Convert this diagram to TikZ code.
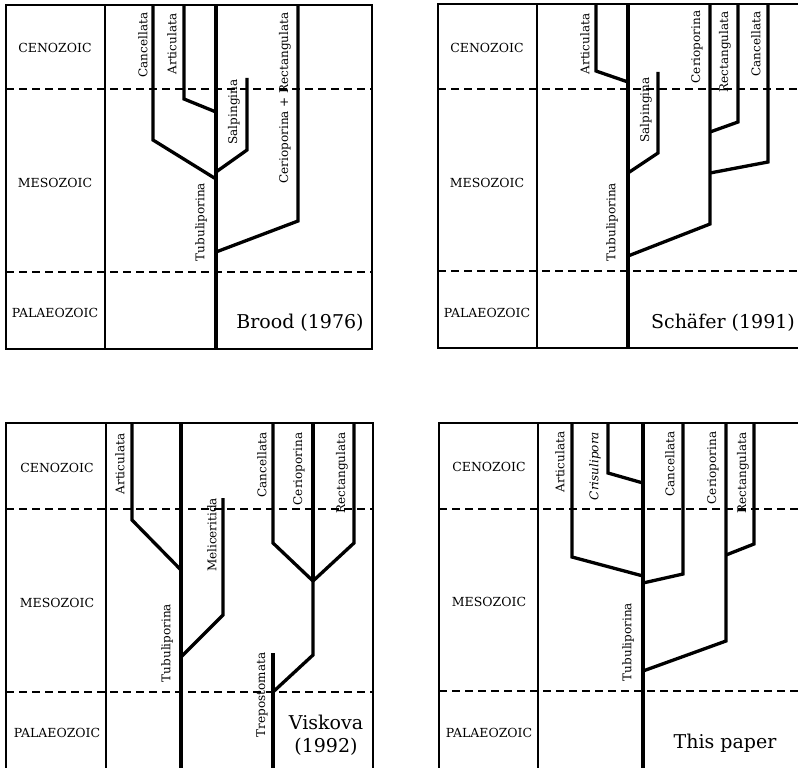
\documentclass[tikz,border=0pt]{standalone}
\usepackage{fontspec}
\setmainfont{DejaVu Serif}
\usepackage{tikz}
\usetikzlibrary{positioning,calc}

\begin{document}
\begin{tikzpicture}[x=1pt,y=-1pt,
  frameline/.style={line width=1.5pt},
  eraline/.style={line width=1.6pt,dash pattern=on 8pt off 5pt},
  cladeline/.style={line width=3.3pt,line join=miter,line cap=butt},
  cladetag/.style={rotate=90,inner sep=0pt,font=\fontsize{12}{14}\selectfont},
  eratag/.style={inner sep=0pt,font=\fontsize{12.5}{15}\selectfont},
  authtag/.style={inner sep=0pt,align=center,font=\fontsize{19}{23}\selectfont}
]
  \useasboundingbox (0,0) rectangle (798,768);

  % Panel 1: Brood (1976) (top-left)
  \draw[frameline] (6,5) rectangle (372,349);
  \draw[frameline] (105,5) -- (105,349);
  \draw[eraline] (6,89) -- (372,89);
  \draw[eraline] (6,272) -- (372,272);
  \coordinate (pa-top) at (216,5);
  \coordinate (pa-bot) at (216,349);
  \coordinate (pa-can) at (216,179);
  \coordinate (pa-art) at (216,112);
  \coordinate (pa-sal) at (216,172);
  \coordinate (pa-cer) at (216,252);
  \draw[cladeline] (pa-top) -- (pa-bot);
  \draw[cladeline] (153,5) -- (153,140) -- (pa-can);
  \draw[cladeline] (184,5) -- (184,99) -- (pa-art);
  \draw[cladeline] (pa-sal) -- (247,150) -- (247,78);
  \draw[cladeline] (pa-cer) -- (298,221) -- (298,5);
  \node[cladetag] (pa-tcan) at (143,45) {Cancellata};
  \node[cladetag] (pa-tart) at (172,44) {Articulata};
  \node[cladetag] (pa-tsal) at (234,112) {Salpingina};
  \node[cladetag] (pa-tcer) at (285,98) {Cerioporina + Rectangulata};
  \node[cladetag] (pa-ttub) at (201,222) {Tubuliporina};
  \node[eratag] (pa-ceno) at (55,48) {CENOZOIC};
  \node[eratag] (pa-meso) at (55,183) {MESOZOIC};
  \node[eratag] (pa-pala) at (55,313) {PALAEOZOIC};
  \node[authtag] (pa-auth) at (300,323) {Brood (1976)};

  % Panel 2: Schafer (1991) (top-right)
  \draw[frameline] (798,4) -- (438,4) -- (438,348) -- (798,348);
  \draw[frameline] (537,4) -- (537,348);
  \draw[eraline] (438,89) -- (798,89);
  \draw[eraline] (438,271) -- (798,271);
  \coordinate (pb-top) at (628,4);
  \coordinate (pb-bot) at (628,348);
  \coordinate (pb-art) at (628,82);
  \coordinate (pb-sal) at (628,173);
  \coordinate (pb-cer) at (628,256);
  \coordinate (pb-rec) at (710,132);
  \coordinate (pb-can) at (710,173);
  \draw[cladeline] (pb-top) -- (pb-bot);
  \draw[cladeline] (596,4) -- (596,71) -- (pb-art);
  \draw[cladeline] (pb-sal) -- (658,153) -- (658,72);
  \draw[cladeline] (pb-cer) -- (710,224) -- (710,4);
  \draw[cladeline] (pb-rec) -- (738,122) -- (738,4);
  \draw[cladeline] (pb-can) -- (768,162) -- (768,4);
  \node[cladetag] (pb-tart) at (585,44) {Articulata};
  \node[cladetag] (pb-tsal) at (646,110) {Salpingina};
  \node[cladetag] (pb-tcer) at (697,47) {Cerioporina};
  \node[cladetag] (pb-trec) at (725,52) {Rectangulata};
  \node[cladetag] (pb-tcan) at (756,44) {Cancellata};
  \node[cladetag] (pb-ttub) at (612,222) {Tubuliporina};
  \node[eratag] (pb-ceno) at (487,48) {CENOZOIC};
  \node[eratag] (pb-meso) at (487,183) {MESOZOIC};
  \node[eratag] (pb-pala) at (487,313) {PALAEOZOIC};
  \node[authtag] (pb-auth) at (723,323) {Schäfer (1991)};

  % Panel 3: Viskova (1992) (bottom-left)
  \draw[frameline] (6,768) -- (6,423) -- (373,423) -- (373,768);
  \draw[frameline] (106,423) -- (106,768);
  \draw[eraline] (6,509) -- (373,509);
  \draw[eraline] (6,692) -- (373,692);
  \coordinate (pc-top) at (181,423);
  \coordinate (pc-bot) at (181,768);
  \coordinate (pc-art) at (181,570);
  \coordinate (pc-mel) at (181,657);
  \coordinate (pc-tre) at (273,692);
  \coordinate (pc-fork) at (313,581);
  \draw[cladeline] (pc-top) -- (pc-bot);
  \draw[cladeline] (132,423) -- (132,520) -- (pc-art);
  \draw[cladeline] (pc-mel) -- (223,615) -- (223,498);
  \draw[cladeline] (273,768) -- (273,653);
  \draw[cladeline] (pc-tre) -- (313,655) -- (pc-fork);
  \draw[cladeline] (273,423) -- (273,543) -- (pc-fork);
  \draw[cladeline] (313,423) -- (pc-fork);
  \draw[cladeline] (354,423) -- (354,543) -- (pc-fork);
  \node[cladetag] (pc-tart) at (120,464) {Articulata};
  \node[cladetag] (pc-ttub) at (167,643) {Tubuliporina};
  \node[cladetag] (pc-tmel) at (212,535) {Meliceritida};
  \node[cladetag] (pc-tcan) at (262,465) {Cancellata};
  \node[cladetag] (pc-tcer) at (299,469) {Cerioporina};
  \node[cladetag] (pc-trec) at (342,473) {Rectangulata};
  \node[cladetag] (pc-ttre) at (262,695) {Trepostomata};
  \node[eratag] (pc-ceno) at (57,468) {CENOZOIC};
  \node[eratag] (pc-meso) at (57,603) {MESOZOIC};
  \node[eratag] (pc-pala) at (57,733) {PALAEOZOIC};
  \node[authtag] (pc-auth) at (326,735) {Viskova\\(1992)};

  % Panel 4: This paper (bottom-right)
  \draw[frameline] (439,768) -- (439,423) -- (798,423);
  \draw[frameline] (538,423) -- (538,768);
  \draw[eraline] (439,509) -- (798,509);
  \draw[eraline] (439,691) -- (798,691);
  \coordinate (pd-top) at (643,423);
  \coordinate (pd-bot) at (643,768);
  \coordinate (pd-art) at (643,576);
  \coordinate (pd-cri) at (643,483);
  \coordinate (pd-can) at (643,583);
  \coordinate (pd-cer) at (643,671);
  \coordinate (pd-rec) at (726,555);
  \draw[cladeline] (pd-top) -- (pd-bot);
  \draw[cladeline] (572,423) -- (572,557) -- (pd-art);
  \draw[cladeline] (608,423) -- (608,473) -- (pd-cri);
  \draw[cladeline] (pd-can) -- (683,574) -- (683,423);
  \draw[cladeline] (pd-cer) -- (726,641) -- (726,423);
  \draw[cladeline] (pd-rec) -- (754,544) -- (754,423);
  \node[cladetag] (pd-tart) at (560,462) {Articulata};
  \node[cladetag] (pd-tcri) at (595,466) {\itshape Crisulipora};
  \node[cladetag] (pd-tcan) at (670,464) {Cancellata};
  \node[cladetag] (pd-tcer) at (713,468) {Cerioporina};
  \node[cladetag] (pd-trec) at (743,473) {Rectangulata};
  \node[cladetag] (pd-ttub) at (628,642) {Tubuliporina};
  \node[eratag] (pd-ceno) at (489,467) {CENOZOIC};
  \node[eratag] (pd-meso) at (489,602) {MESOZOIC};
  \node[eratag] (pd-pala) at (489,733) {PALAEOZOIC};
  \node[authtag] (pd-auth) at (725,743) {This paper};
\end{tikzpicture}
\end{document}
